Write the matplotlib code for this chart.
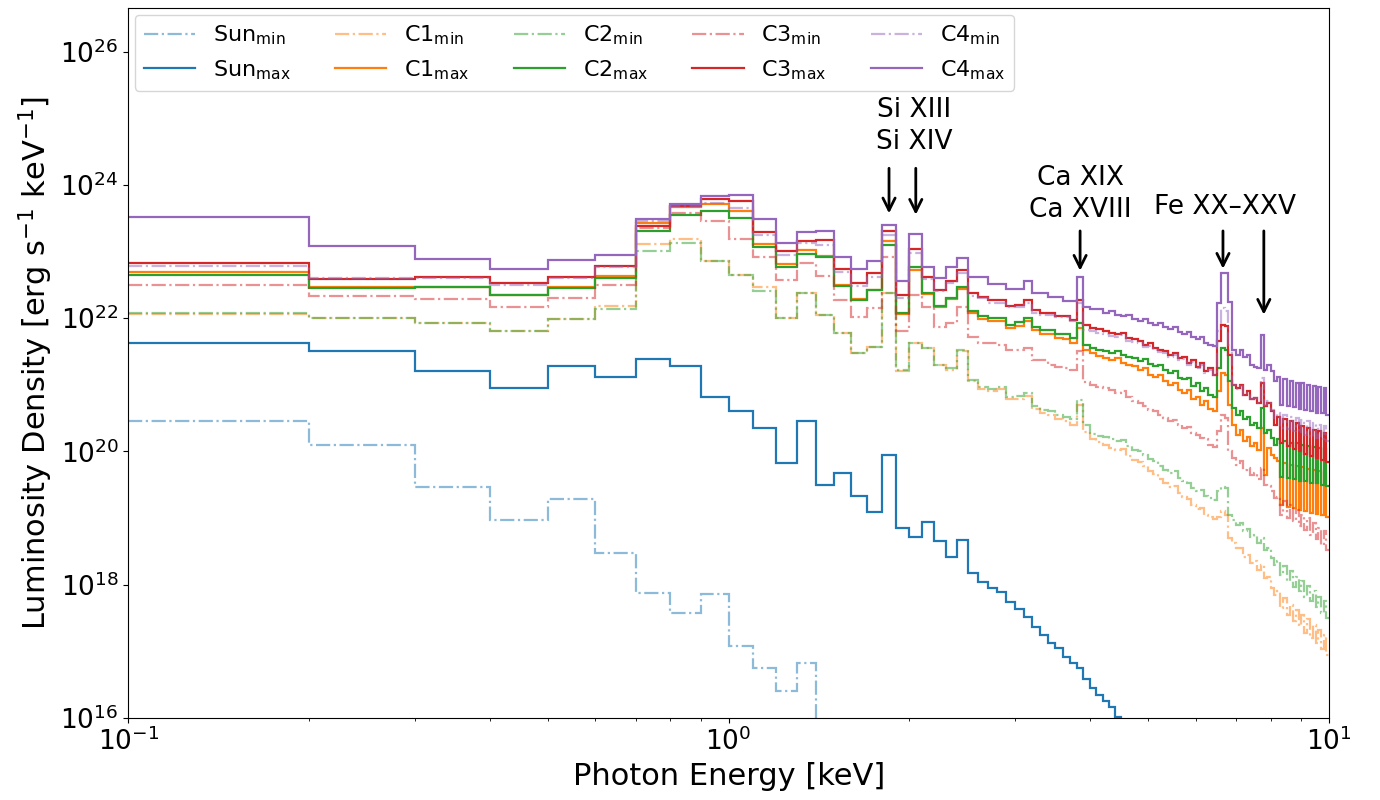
import numpy as np
import matplotlib
matplotlib.use("Agg")
import matplotlib.pyplot as plt

# bin edges [keV]: 0.1 keV wide bins from 0.1 to 10 keV
edges = np.round(np.arange(1, 101) * 0.1, 1)

# log10 of luminosity density [erg s^-1 keV^-1], one value per bin
log_sun_min = [20.46, 20.10, 19.46, 18.97, 19.28, 18.48, 17.87, 17.58, 17.86, 17.08,
               16.75, 16.41, 16.83, 15.50]

log_sun_max = [21.62, 21.51, 21.20, 20.95, 21.28, 21.11, 21.38, 21.28, 20.82, 20.60,
               20.35, 19.82, 20.45, 19.49, 19.67, 19.33, 19.09, 19.95, 18.85, 18.72,
               18.94, 18.66, 18.42, 18.67, 18.17, 18.04, 17.95, 17.89, 17.74, 17.63,
               17.52, 17.37, 17.25, 17.12, 17.05, 16.92, 16.82, 16.75, 16.59, 16.45,
               16.35, 16.26, 16.17, 16.02, 15.85]

log_c1_min = [22.06, 22.00, 21.92, 21.80, 21.99, 22.18, 23.11, 23.19, 22.85, 22.65,
              22.46, 22.00, 22.37, 22.04, 21.78, 21.48, 21.57, 22.38, 21.21, 21.63,
              21.55, 21.30, 21.22, 21.50, 21.05, 20.94, 20.90, 20.93, 20.78, 20.79,
              20.83, 20.63, 20.57, 20.54, 20.48, 20.45, 20.40, 20.70, 20.29, 20.18,
              20.14, 20.10, 20.05, 20.02, 20.03, 19.93, 19.87, 19.84, 19.78, 19.70,
              19.66, 19.58, 19.52, 19.47, 19.48, 19.37, 19.32, 19.28, 19.20, 19.14,
              19.15, 19.05, 19.02, 18.98, 19.02, 19.10, 19.05, 18.70, 18.62, 18.55,
              18.55, 18.42, 18.45, 18.33, 18.35, 18.22, 18.30, 18.10, 18.12, 17.95,
              17.85, 17.90, 17.65, 17.80, 17.55, 17.70, 17.45, 17.62, 17.38, 17.55,
              17.28, 17.48, 17.20, 17.40, 17.12, 17.32, 17.03, 17.25, 16.95]

log_c1_max = [22.69, 22.47, 22.46, 22.35, 22.46, 22.63, 23.43, 23.66, 23.71, 23.60,
              23.11, 22.81, 23.02, 22.93, 22.49, 22.28, 22.42, 23.15, 22.06, 22.72,
              22.36, 22.16, 22.28, 22.44, 22.07, 21.99, 21.95, 21.95, 21.85, 21.88,
              21.95, 21.82, 21.76, 21.76, 21.70, 21.68, 21.62, 21.85, 21.52, 21.47,
              21.43, 21.40, 21.37, 21.40, 21.33, 21.30, 21.28, 21.22, 21.25, 21.15,
              21.12, 21.15, 21.05, 21.00, 21.03, 20.92, 20.88, 20.92, 20.78, 20.82,
              20.70, 20.75, 20.63, 20.60, 20.90, 21.18, 21.15, 20.70, 20.40, 20.25,
              20.32, 20.15, 20.22, 20.08, 20.12, 20.02, 20.35, 19.65, 20.05, 19.95,
              19.90, 19.85, 19.20, 19.82, 19.17, 19.80, 19.15, 19.78, 19.12, 19.76,
              19.10, 19.74, 19.08, 19.72, 19.06, 19.70, 19.04, 19.68, 19.02]

log_c2_min = [22.07, 22.00, 21.92, 21.80, 21.99, 22.14, 23.01, 23.13, 22.85, 22.65,
              22.41, 22.00, 22.37, 22.04, 21.78, 21.48, 21.57, 22.38, 21.22, 21.63,
              21.55, 21.30, 21.25, 21.52, 21.07, 20.96, 20.94, 20.96, 20.82, 20.83,
              20.87, 20.68, 20.62, 20.60, 20.55, 20.52, 20.48, 20.77, 20.40, 20.26,
              20.23, 20.22, 20.18, 20.15, 20.17, 20.08, 20.02, 20.00, 19.95, 19.88,
              19.85, 19.78, 19.72, 19.68, 19.70, 19.60, 19.55, 19.52, 19.45, 19.40,
              19.42, 19.33, 19.30, 19.27, 19.40, 19.47, 19.45, 19.05, 18.97, 18.90,
              18.92, 18.80, 18.83, 18.72, 18.75, 18.62, 18.70, 18.52, 18.55, 18.40,
              18.30, 18.35, 18.15, 18.28, 18.05, 18.20, 17.97, 18.12, 17.90, 18.05,
              17.82, 17.98, 17.75, 17.90, 17.67, 17.82, 17.58, 17.75, 17.50]

log_c2_max = [22.65, 22.45, 22.46, 22.34, 22.45, 22.60, 23.30, 23.54, 23.61, 23.50,
              23.07, 22.76, 22.96, 22.92, 22.48, 22.27, 22.42, 23.10, 22.08, 22.76,
              22.37, 22.18, 22.30, 22.46, 22.10, 22.03, 22.00, 22.00, 21.90, 21.94,
              22.00, 21.87, 21.82, 21.82, 21.76, 21.76, 21.70, 21.92, 21.60, 21.55,
              21.52, 21.50, 21.47, 21.50, 21.45, 21.42, 21.40, 21.36, 21.38, 21.31,
              21.28, 21.30, 21.22, 21.18, 21.20, 21.10, 21.08, 21.10, 20.98, 21.02,
              20.90, 20.95, 20.84, 20.82, 21.25, 21.55, 21.52, 21.05, 20.65, 20.55,
              20.60, 20.48, 20.52, 20.40, 20.43, 20.35, 20.65, 20.28, 20.32, 20.20,
              20.10, 20.18, 19.62, 20.15, 19.60, 20.13, 19.58, 20.12, 19.56, 20.10,
              19.55, 20.08, 19.53, 20.07, 19.52, 20.05, 19.50, 20.04, 19.48]

log_c3_min = [22.49, 22.33, 22.29, 22.17, 22.30, 22.50, 23.35, 23.57, 23.45, 23.19,
              22.92, 22.57, 22.82, 22.63, 22.27, 22.02, 22.15, 22.92, 21.80, 22.34,
              22.17, 21.87, 21.92, 22.17, 21.72, 21.62, 21.62, 21.60, 21.52, 21.52,
              21.55, 21.37, 21.37, 21.30, 21.27, 21.25, 21.22, 21.50, 21.04, 21.00,
              20.97, 20.95, 20.92, 20.88, 20.90, 20.82, 20.75, 20.72, 20.68, 20.62,
              20.60, 20.55, 20.50, 20.45, 20.47, 20.40, 20.35, 20.37, 20.28, 20.25,
              20.20, 20.18, 20.10, 20.07, 20.30, 20.55, 20.50, 20.00, 19.90, 19.80,
              19.85, 19.72, 19.75, 19.65, 19.68, 19.58, 19.75, 19.50, 19.48, 19.40,
              19.30, 19.32, 19.05, 19.25, 19.00, 19.20, 18.95, 19.12, 18.88, 19.05,
              18.82, 19.00, 18.75, 18.92, 18.68, 18.85, 18.60, 18.80, 18.52]

log_c3_max = [22.82, 22.58, 22.62, 22.52, 22.61, 22.78, 23.38, 23.68, 23.79, 23.76,
              23.29, 23.00, 23.15, 23.17, 22.73, 22.52, 22.67, 23.31, 22.35, 23.04,
              22.62, 22.42, 22.56, 22.72, 22.38, 22.31, 22.27, 22.27, 22.18, 22.20,
              22.27, 22.12, 22.07, 22.07, 22.03, 22.03, 21.97, 22.27, 21.90, 21.85,
              21.84, 21.80, 21.78, 21.76, 21.78, 21.70, 21.68, 21.66, 21.60, 21.62,
              21.55, 21.52, 21.50, 21.45, 21.47, 21.40, 21.42, 21.33, 21.37, 21.27,
              21.32, 21.20, 21.25, 21.15, 21.65, 21.90, 21.88, 21.45, 21.00, 20.95,
              21.00, 20.85, 20.90, 20.78, 20.80, 20.72, 21.02, 20.68, 20.72, 20.60,
              20.40, 20.52, 20.12, 20.48, 20.08, 20.45, 20.04, 20.42, 20.00, 20.38,
              19.96, 20.35, 19.93, 20.32, 19.90, 20.30, 19.87, 20.28, 19.84]

log_c4_min = [22.78, 22.60, 22.60, 22.50, 22.60, 22.76, 23.45, 23.68, 23.72, 23.65,
              23.25, 22.95, 23.13, 23.10, 22.69, 22.48, 22.62, 23.24, 22.30, 22.98,
              22.58, 22.40, 22.53, 22.67, 22.33, 22.30, 22.22, 22.22, 22.16, 22.17,
              22.22, 22.08, 22.04, 22.04, 22.01, 22.01, 21.95, 22.22, 21.82, 21.80,
              21.78, 21.76, 21.73, 21.72, 21.74, 21.66, 21.64, 21.62, 21.57, 21.58,
              21.52, 21.49, 21.47, 21.42, 21.44, 21.37, 21.39, 21.30, 21.34, 21.25,
              21.30, 21.18, 21.22, 21.14, 21.80, 22.15, 22.10, 21.60, 21.00, 20.93,
              20.98, 20.85, 20.88, 20.78, 20.80, 20.72, 21.10, 20.70, 20.75, 20.62,
              20.50, 20.58, 20.35, 20.55, 20.33, 20.52, 20.30, 20.50, 20.28, 20.47,
              20.25, 20.45, 20.22, 20.42, 20.20, 20.40, 20.18, 20.38, 20.15]

log_c4_max = [23.51, 23.08, 22.89, 22.73, 22.87, 22.94, 23.49, 23.71, 23.83, 23.85,
              23.49, 23.12, 23.29, 23.31, 22.92, 22.73, 22.85, 23.40, 22.55, 23.26,
              22.77, 22.60, 22.77, 22.90, 22.61, 22.61, 22.51, 22.51, 22.43, 22.44,
              22.55, 22.37, 22.37, 22.32, 22.32, 22.26, 22.26, 22.61, 22.17, 22.13,
              22.13, 22.08, 22.10, 22.05, 22.03, 22.05, 21.99, 21.96, 21.99, 21.92,
              21.90, 21.93, 21.86, 21.83, 21.86, 21.79, 21.76, 21.79, 21.71, 21.68,
              21.72, 21.63, 21.60, 21.58, 22.22, 22.68, 22.68, 22.24, 21.52, 21.45,
              21.52, 21.42, 21.45, 21.30, 21.27, 21.25, 21.75, 21.22, 21.30, 21.20,
              21.05, 21.12, 20.70, 21.08, 20.68, 21.05, 20.66, 21.03, 20.64, 21.02,
              20.62, 21.00, 20.60, 20.98, 20.58, 20.96, 20.57, 20.95, 20.55]

stars = ["Sun", "C1", "C2", "C3", "C4"]
colors = ["tab:blue", "tab:orange", "tab:green", "tab:red", "tab:purple"]
mins = [log_sun_min, log_c1_min, log_c2_min, log_c3_min, log_c4_min]
maxs = [log_sun_max, log_c1_max, log_c2_max, log_c3_max, log_c4_max]

fig, ax = plt.subplots(figsize=(13.8, 8.0), dpi=100)
fig.subplots_adjust(left=0.093, right=0.963, bottom=0.1025, top=0.99)

for name, col, lo, hi in zip(stars, colors, mins, maxs):
    lo = 10 ** np.array(lo)
    hi = 10 ** np.array(hi)
    ax.stairs(lo, edges[:len(lo) + 1], baseline=None, color=col, alpha=0.5,
              ls="-.", lw=1.6, label=name + r"$_{\rm min}$")
    ax.stairs(hi, edges[:len(hi) + 1], baseline=None, color=col,
              ls="-", lw=1.6, label=name + r"$_{\rm max}$")

ax.set_xscale("log")
ax.set_yscale("log")
ax.set_xlim(0.1, 10)
ax.set_ylim(1e16, 4.5e26)
ax.set_xlabel("Photon Energy [keV]", fontsize=22)
ax.set_ylabel(r"Luminosity Density [erg s$^{-1}$ keV$^{-1}$]", fontsize=22)
ax.tick_params(labelsize=19)

# line labels and arrows
arr = dict(arrowstyle="->", lw=2, color="k", mutation_scale=22)
for e, tip, tail in [(1.85, 23.53, 24.29), (2.05, 23.51, 24.29),
                     (3.85, 22.67, 23.35), (6.66, 22.70, 23.35), (7.79, 22.01, 23.35)]:
    ax.annotate("", xy=(e, 10 ** tip), xytext=(e, 10 ** tail), arrowprops=arr)

ax.text(2.04, 10 ** 24.88, "Si XIII\nSi XIV", ha="center", va="center",
        fontsize=19, linespacing=1.3)
ax.text(3.85, 10 ** 23.86, "Ca XIX\nCa XVIII", ha="center", va="center",
        fontsize=19, linespacing=1.3)
ax.text(6.7, 10 ** 23.66, "Fe XX–XXV", ha="center", va="center", fontsize=19)

ax.legend(ncol=5, loc="upper left", fontsize=16, handlelength=2.3,
          borderaxespad=0.3)

fig.savefig("out.png", dpi=100)
